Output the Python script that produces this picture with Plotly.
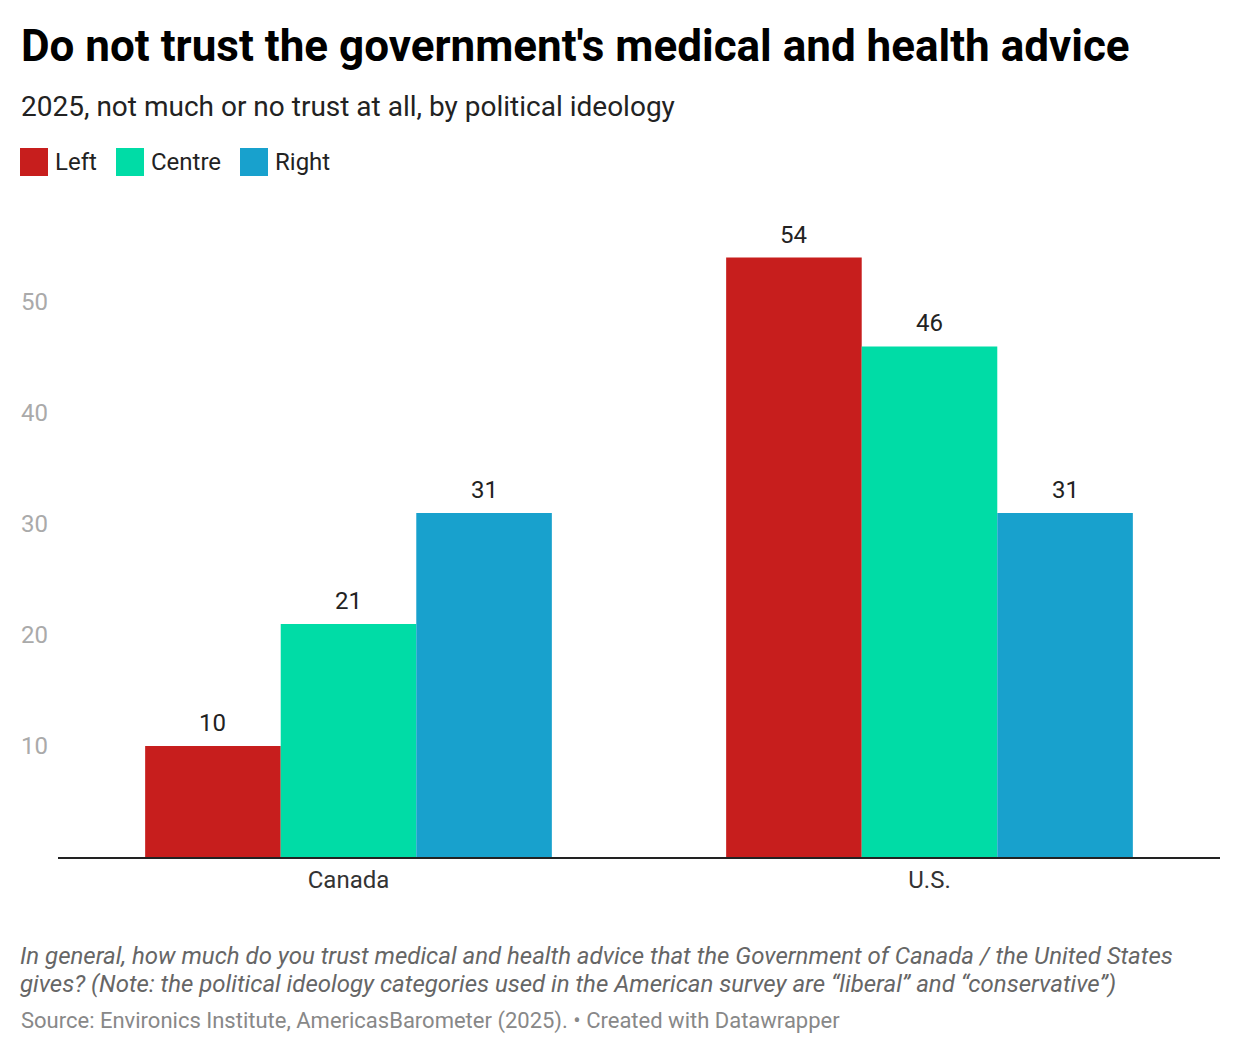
import plotly.graph_objects as go

categories = ["Canada", "U.S."]
series_names = ["Left", "Centre", "Right"]
left_vals = [10, 54]
centre_vals = [21, 46]
right_vals = [31, 31]
series_values = [left_vals, centre_vals, right_vals]
colors = ["#c71e1d", "#00dca6", "#18a1cd"]
y_ticks = [10, 20, 30, 40, 50]

title = "Do not trust the government's medical and health advice"
subtitle = "2025, not much or no trust at all, by political ideology"
note_lines = [
    "In general, how much do you trust medical and health advice that the Government of Canada / the United States",
    "gives? (Note: the political ideology categories used in the American survey are \u201cliberal\u201d and \u201cconservative\u201d)",
]
source = "Source: Environics Institute, AmericasBarometer (2025). \u2022 Created with Datawrapper"

OFF = 8  # page body margin
PAGE_W, PAGE_H = 1240, 1054
W, H = PAGE_W - OFF, PAGE_H - OFF
AX_L, AX_R, AX_T, AX_B = 58, 1220, 191, 857  # page coords of plot area
ML, MR, MT, MB = AX_L - OFF, PAGE_W - AX_R, AX_T - OFF, PAGE_H - AX_B
PW = W - ML - MR
PH = H - MT - MB
BARGAP = 0.3
FONT = "Roboto"


def px(x):
    return (x - AX_L) / PW


def py(y):
    return (AX_B - y) / PH


fig = go.Figure()
for name, vals, col in zip(series_names, series_values, colors):
    fig.add_trace(go.Bar(x=categories, y=vals, name=name, marker_color=col,
                         marker_line_width=0, showlegend=False))

# value labels
cat_w = PW / len(categories)
bar_w = cat_w * (1 - BARGAP) / len(series_names)
anns = []
for i, vals in enumerate(series_values):
    shift = (i - (len(series_names) - 1) / 2) * bar_w
    for c, v in zip(categories, vals):
        anns.append(dict(x=c, y=v, xref="x", yref="y", text=str(v), showarrow=False,
                         xshift=shift, yshift=7, yanchor="bottom",
                         font=dict(family=FONT, size=24, color="#222")))

# header / footer
anns.append(dict(x=px(19), y=py(46), xref="paper", yref="paper", text="<b>" + title + "</b>",
                 showarrow=False, xanchor="left", yanchor="middle",
                 font=dict(family=FONT, size=44, color="#000")))
anns.append(dict(x=px(19), y=py(106), xref="paper", yref="paper", text=subtitle,
                 showarrow=False, xanchor="left", yanchor="middle",
                 font=dict(family=FONT, size=28, color="#222")))
for ly, line in zip([956, 984], note_lines):
    anns.append(dict(x=px(18), y=py(ly), xref="paper", yref="paper", text="<i>" + line + "</i>",
                     showarrow=False, xanchor="left", yanchor="middle", align="left",
                     font=dict(family=FONT, size=24, color="#666")))
anns.append(dict(x=px(19), y=py(1021), xref="paper", yref="paper", text=source,
                 showarrow=False, xanchor="left", yanchor="middle",
                 font=dict(family=FONT, size=22, color="#888")))

# legend
shapes = []
leg_x = [20, 116, 240]
for lx, name, col in zip(leg_x, series_names, colors):
    shapes.append(dict(type="rect", xref="paper", yref="paper",
                       x0=px(lx), x1=px(lx + 28), y0=py(176), y1=py(148),
                       fillcolor=col, line_width=0))
    anns.append(dict(x=px(lx + 33), y=py(162), xref="paper", yref="paper", text=name,
                     showarrow=False, xanchor="left", yanchor="middle",
                     font=dict(family=FONT, size=24, color="#222")))

fig.update_layout(
    width=W, height=H,
    margin=dict(l=ML, r=MR, t=MT, b=MB, autoexpand=False),
    paper_bgcolor="white", plot_bgcolor="white",
    barmode="group", bargap=BARGAP, bargroupgap=0,
    annotations=anns, shapes=shapes,
    font=dict(family=FONT),
)
fig.update_xaxes(showgrid=False, showline=True, linecolor="#222", linewidth=2,
                 ticks="", tickfont=dict(family=FONT, size=24, color="#333"))
fig.update_yaxes(range=[0, 60], tickvals=y_ticks, showgrid=False, zeroline=False,
                 showline=False, ticks="", ticklabelstandoff=9,
                 tickfont=dict(family=FONT, size=24, color="#aaa"))

fig.write_html("out.html")
